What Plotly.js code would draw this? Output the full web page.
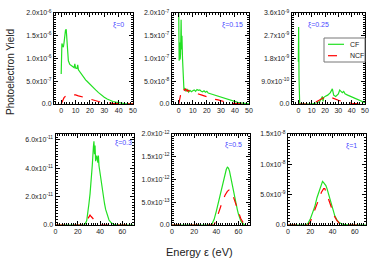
<!DOCTYPE html>
<html>
<head>
<meta charset="utf-8">
<script src="https://cdn.plot.ly/plotly-3.0.1.min.js"></script>
<style>html,body{margin:0;padding:0;background:#fff;}#chart{width:374px;height:261px;}</style>
</head>
<body>
<div id="chart"></div>
<script>
// ---------- DATA ----------
// xi = 0
const e0cf = [0,0.5,1,1.5,2,2.5,3,3.5,4,4.5,5,6,7,8,9,9.5,10,11,11.5,12,13,14,15,16,17,18,20,22,24,26,28,30,32,34,36,38,40,42,44,46,48,50];
const y0cf = [0.66e-6,1.33e-6,1.28e-6,1.25e-6,1.35e-6,1.50e-6,1.62e-6,1.64e-6,1.35e-6,1.05e-6,0.95e-6,0.87e-6,0.84e-6,0.81e-6,0.80e-6,0.88e-6,0.79e-6,0.78e-6,0.86e-6,0.75e-6,0.70e-6,0.65e-6,0.61e-6,0.57e-6,0.53e-6,0.50e-6,0.43e-6,0.36e-6,0.31e-6,0.25e-6,0.19e-6,0.15e-6,0.11e-6,0.08e-6,0.055e-6,0.04e-6,0.025e-6,0.015e-6,0.01e-6,0.006e-6,0.004e-6,0.002e-6];
const e0ncf = [0,1,2,3,4,6,8,10,12,14,16,18,20,22,24,26,28,30,33,36,40,45,50];
const y0ncf = [0,0.08e-6,0.14e-6,0.17e-6,0.19e-6,0.21e-6,0.21e-6,0.20e-6,0.18e-6,0.16e-6,0.14e-6,0.12e-6,0.11e-6,0.09e-6,0.07e-6,0.055e-6,0.04e-6,0.03e-6,0.02e-6,0.012e-6,0.006e-6,0.003e-6,0.001e-6];
// xi = 0.15
const e1cf = [0,0.3,0.6,1,1.3,1.7,2,2.3,2.7,3,3.3,3.7,4,5,6,7,8,9,10,11,12,13,14,15,16,17,18,19,20,21,22,24,26,28,30,32,34,36,38,40,42,44,46,48,50];
const y1cf = [2.0e-7,0.95e-7,1.35e-7,0.98e-7,1.1e-7,1.85e-7,1.2e-7,1.5e-7,1.0e-7,0.6e-7,0.38e-7,0.32e-7,0.35e-7,0.28e-7,0.33e-7,0.26e-7,0.30e-7,0.27e-7,0.29e-7,0.31e-7,0.28e-7,0.32e-7,0.30e-7,0.31e-7,0.28e-7,0.27e-7,0.29e-7,0.26e-7,0.28e-7,0.24e-7,0.23e-7,0.21e-7,0.19e-7,0.17e-7,0.15e-7,0.13e-7,0.10e-7,0.08e-7,0.06e-7,0.05e-7,0.035e-7,0.025e-7,0.015e-7,0.008e-7,0.004e-7];
const e1ncf = [0,0.5,1,2,3,4,5,6,7,8,10,12,14,16,18,20,22,24,26,28,30,32,35,38,40,45,50];
const y1ncf = [0,0.1e-7,0.2e-7,0.3e-7,0.35e-7,0.3e-7,0.33e-7,0.28e-7,0.3e-7,0.26e-7,0.25e-7,0.24e-7,0.22e-7,0.2e-7,0.18e-7,0.15e-7,0.13e-7,0.11e-7,0.1e-7,0.09e-7,0.07e-7,0.05e-7,0.03e-7,0.015e-7,0.008e-7,0.003e-7,0];
// xi = 0.25
const e2cf = [0,0.2,0.5,1,10,12,14,16,17,18,18.5,19,20,22,24,25.5,26.5,28,30,31,32,33,34,35,37,40,43,46,50];
const y2cf = [1.67e-9,3.05e-9,1.0e-9,0,0,0.02e-9,0.05e-9,0.1e-9,0.2e-9,0.3e-9,0.1e-9,0.25e-9,0.3e-9,0.35e-9,0.45e-9,0.6e-9,0.35e-9,0.3e-9,0.4e-9,0.55e-9,0.5e-9,0.45e-9,0.5e-9,0.4e-9,0.35e-9,0.28e-9,0.2e-9,0.12e-9,0.05e-9];
const e2ncf = [0,10,12,15,18,20,22,24,26,28,30,33,36,40,45,50];
const y2ncf = [0,0,0.05e-9,0.12e-9,0.22e-9,0.28e-9,0.3e-9,0.27e-9,0.22e-9,0.18e-9,0.15e-9,0.1e-9,0.06e-9,0.03e-9,0.01e-9,0];
// xi = 0.3
const e3cf = [0,26,28,29,30,31,32,33,34,34.5,35,35.5,36,37,38,38.5,39,40,41,42,43,44,45,46,47,48,50,52,55,70];
const y3cf = [0,0,0.3e-11,0.8e-11,1.5e-11,2.2e-11,3.0e-11,4.2e-11,5.5e-11,5.9e-11,5.0e-11,5.6e-11,4.5e-11,4.9e-11,4.4e-11,4.9e-11,4.2e-11,3.6e-11,2.9e-11,2.4e-11,1.9e-11,1.5e-11,1.1e-11,0.8e-11,0.5e-11,0.35e-11,0.15e-11,0.05e-11,0,0];
const e3ncf = [0,25,28,30,31,32,34,36,38,40,42,70];
const y3ncf = [0,0,0.3e-11,0.6e-11,0.7e-11,0.6e-11,0.4e-11,0.2e-11,0.08e-11,0.02e-11,0,0];
// xi = 0.5
const e4cf = [0,36,37,38,40,42,44,46,48,49,50,51,52,53,54,55,56,57,58,59,60,61,62,63,64,65,66];
const y4cf = [0,0,0.07e-12,0.12e-12,0.3e-12,0.5e-12,0.75e-12,0.96e-12,1.15e-12,1.22e-12,1.27e-12,1.25e-12,1.18e-12,1.05e-12,0.95e-12,0.82e-12,0.7e-12,0.56e-12,0.45e-12,0.34e-12,0.24e-12,0.15e-12,0.1e-12,0.06e-12,0.03e-12,0.01e-12,0];
const e4ncf = [0,38,40,42,44,46,48,50,52,54,56,58,60,62,64,66,70];
const y4ncf = [0,0,0.12e-12,0.28e-12,0.42e-12,0.55e-12,0.66e-12,0.74e-12,0.78e-12,0.7e-12,0.58e-12,0.42e-12,0.28e-12,0.15e-12,0.06e-12,0.01e-12,0];
// xi = 1
const e5cf = [0,16,18,20,22,24,26,27,28,29,30,31,32,33,34,35,36,37,38,39,40,42,44,46,48,50,55,70];
const y5cf = [0,0,0.03e-8,0.1e-8,0.2e-8,0.3e-8,0.45e-8,0.5e-8,0.55e-8,0.6e-8,0.66e-8,0.72e-8,0.7e-8,0.68e-8,0.65e-8,0.6e-8,0.53e-8,0.47e-8,0.4e-8,0.32e-8,0.25e-8,0.15e-8,0.08e-8,0.04e-8,0.02e-8,0.01e-8,0,0];
const e5ncf = [0,18,20,22,24,26,28,30,32,33,34,36,38,40,42,44,46,48,50,70];
const y5ncf = [0,0,0.05e-8,0.15e-8,0.25e-8,0.36e-8,0.46e-8,0.54e-8,0.6e-8,0.6e-8,0.55e-8,0.45e-8,0.33e-8,0.22e-8,0.13e-8,0.07e-8,0.03e-8,0.01e-8,0,0];

const panelLabels = ['ξ=0','ξ=0.15','ξ=0.25','ξ=0.3','ξ=0.5','ξ=1'];
const seriesNames = ['CF','NCF'];

// tick values / labels
const yTickVals = [
  [0,5e-7,1e-6,1.5e-6,2e-6],
  [0,5e-8,1e-7,1.5e-7,2e-7],
  [0,9e-10,1.8e-9,2.7e-9,3.6e-9],
  [0,2e-11,4e-11,6e-11],
  [0,5e-13,1e-12,1.5e-12,2e-12],
  [0,5e-9,1e-8,1.5e-8]
];
const yTickText = [
  ['0.0','5.0x10<sup>-7</sup>','1.0x10<sup>-6</sup>','1.5x10<sup>-6</sup>','2.0x10<sup>-6</sup>'],
  ['0.0','5.0x10<sup>-8</sup>','1.0x10<sup>-7</sup>','1.5x10<sup>-7</sup>','2.0x10<sup>-7</sup>'],
  ['0.0','9.0x10<sup>-10</sup>','1.8x10<sup>-9</sup>','2.7x10<sup>-9</sup>','3.6x10<sup>-9</sup>'],
  ['0.0','2.0x10<sup>-11</sup>','4.0x10<sup>-11</sup>','6.0x10<sup>-11</sup>'],
  ['0.0','5.0x10<sup>-13</sup>','1.0x10<sup>-12</sup>','1.5x10<sup>-12</sup>','2.0x10<sup>-12</sup>'],
  ['0.0','5.0x10<sup>-9</sup>','1.0x10<sup>-8</sup>','1.5x10<sup>-8</sup>']
];
const yRanges = [[0,2e-6],[0,2e-7],[0,3.6e-9],[0,6.42e-11],[0,2e-12],[0,1.5e-8]];
const xRangeTop = [-5,50];
const xRangeBottom = [0,70];

// ---------- BUILD ----------
const W = 374, H = 261;
const cfSets = [[e0cf,y0cf],[e1cf,y1cf],[e2cf,y2cf],[e3cf,y3cf],[e4cf,y4cf],[e5cf,y5cf]];
const ncfSets = [[e0ncf,y0ncf],[e1ncf,y1ncf],[e2ncf,y2ncf],[e3ncf,y3ncf],[e4ncf,y4ncf],[e5ncf,y5ncf]];

const xDomPx = [[54,133],[171.7,249],[291.7,365],[55.5,133.5],[172,249.5],[288,366]];
const yDomPx = [[13,104],[13,104],[13,104],[134,225],[134,225],[134,225]];

const GREEN = '#22e022', RED = '#ff0000';
const traces = [];
const layout = {
  width: W, height: H,
  margin: {l:0,r:0,t:0,b:0},
  paper_bgcolor: '#fff', plot_bgcolor: '#fff',
  font: {family: 'Liberation Sans, Arial, sans-serif', color: '#222', size: 7},
  showlegend: false,
  annotations: [],
  shapes: []
};

const labelPos = [[118,25],[232,25],[318,25],[123,143],[234,145],[351,146]];

for (let i = 0; i < 6; i++) {
  const s = i === 0 ? '' : String(i+1);
  traces.push({x: cfSets[i][0], y: cfSets[i][1], xaxis: 'x'+s, yaxis: 'y'+s,
    type: 'scatter', mode: 'lines', name: seriesNames[0],
    line: {color: GREEN, width: 1.2}});
  traces.push({x: ncfSets[i][0], y: ncfSets[i][1], xaxis: 'x'+s, yaxis: 'y'+s,
    type: 'scatter', mode: 'lines', name: seriesNames[1],
    line: {color: RED, width: 1.2, dash: 'dash'}});
  const top = i < 3;
  layout['xaxis'+s] = {
    domain: [xDomPx[i][0]/W, xDomPx[i][1]/W], anchor: 'y'+s,
    range: top ? xRangeTop : xRangeBottom,
    tickmode: 'linear', tick0: 0, dtick: top ? 10 : 20,
    ticks: 'inside', ticklen: 4, tickwidth: 1, tickcolor: '#000',
    minor: {tickmode: 'linear', tick0: 0, dtick: 2, ticklen: 2, tickcolor: '#000', ticks: 'inside'},
    showline: true, linecolor: '#000', linewidth: 1, mirror: 'ticks',
    showgrid: false, zeroline: false, fixedrange: true,
    tickfont: {size: 7, color: '#222'}
  };
  const yv = yTickVals[i];
  layout['yaxis'+s] = {
    domain: [1-yDomPx[i][1]/H, 1-yDomPx[i][0]/H], anchor: 'x'+s,
    range: yRanges[i],
    tickmode: 'array', tickvals: yv, ticktext: yTickText[i],
    ticks: 'inside', ticklen: 4, tickwidth: 1, tickcolor: '#000',
    minor: {tickmode: 'linear', tick0: 0, dtick: (yv[1]-yv[0])/10, ticklen: 2, tickcolor: '#000', ticks: 'inside'},
    showline: true, linecolor: '#000', linewidth: 1, mirror: 'ticks',
    showgrid: false, zeroline: false, fixedrange: true,
    tickfont: {size: 7, color: '#222'}
  };
  layout.annotations.push({text: panelLabels[i], xref: 'paper', yref: 'paper',
    x: labelPos[i][0]/W, y: 1-labelPos[i][1]/H, showarrow: false,
    font: {size: 7, color: '#4a4aff'}, xanchor: 'center', yanchor: 'middle'});
}

// legend (compact box inside the xi=0.25 panel)
const legBox = [324, 38, 365, 62];
const legRows = [44.3, 55.7];
layout.shapes.push({type: 'rect', xref: 'paper', yref: 'paper',
  x0: legBox[0]/W, x1: legBox[2]/W, y0: 1-legBox[1]/H, y1: 1-legBox[3]/H,
  line: {color: '#777', width: 1}, fillcolor: '#fff', layer: 'above'});
[[GREEN,'solid'],[RED,'dash']].forEach((st, k) => {
  layout.shapes.push({type: 'line', xref: 'paper', yref: 'paper',
    x0: 328/W, x1: 344/W, y0: 1-legRows[k]/H, y1: 1-legRows[k]/H,
    line: {color: st[0], width: 1.2, dash: st[1]}, layer: 'above'});
  layout.annotations.push({text: seriesNames[k], xref: 'paper', yref: 'paper',
    x: 348/W, y: 1-legRows[k]/H, showarrow: false, xanchor: 'left', yanchor: 'middle',
    font: {size: 7, color: '#222'}});
});

layout.annotations.push({text: 'Photoelectron Yield', xref: 'paper', yref: 'paper',
  x: 10/W, y: 1-72/H, showarrow: false, textangle: -90,
  font: {size: 10, color: '#222'}, xanchor: 'center', yanchor: 'middle'});
layout.annotations.push({text: 'Energy ε (eV)', xref: 'paper', yref: 'paper',
  x: 199/W, y: 1-252/H, showarrow: false,
  font: {size: 11, color: '#222'}, xanchor: 'center', yanchor: 'middle'});

Plotly.newPlot('chart', traces, layout, {staticPlot: true, displayModeBar: false});
</script>
</body>
</html>
